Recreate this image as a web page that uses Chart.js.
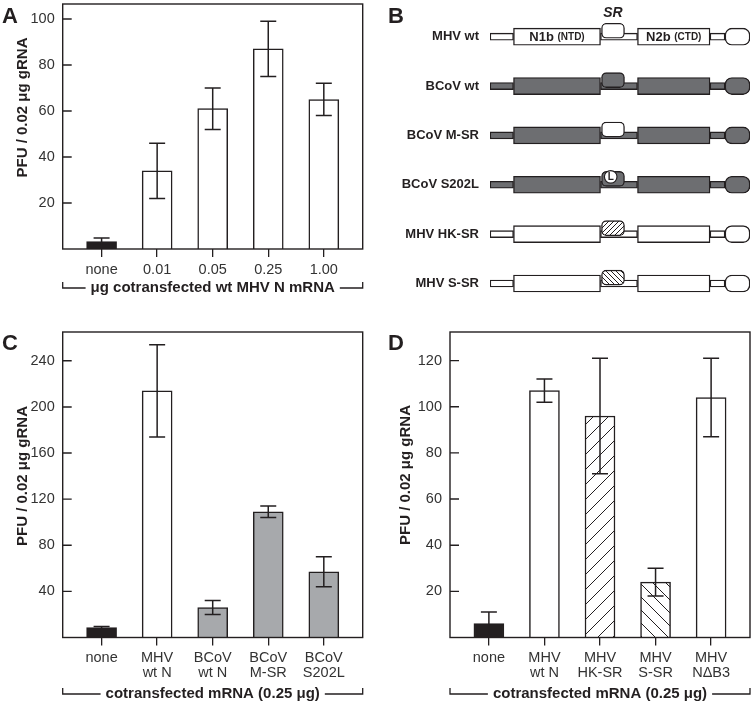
<!DOCTYPE html>
<html>
<head>
<meta charset="utf-8">
<script src="https://cdn.jsdelivr.net/npm/chart.js@4.4.1/dist/chart.umd.min.js"></script>
<style>
  body { margin: 0; background: #fff; width: 751px; height: 703px; position: relative; overflow: hidden; }
  canvas { position: absolute; }
</style>
</head>
<body>
<canvas id="chartA" width="375" height="305" style="left:0;top:0"></canvas>
<canvas id="chartB" width="376" height="305" style="left:375px;top:0"></canvas>
<canvas id="chartC" width="375" height="398" style="left:0;top:305px"></canvas>
<canvas id="chartD" width="376" height="398" style="left:375px;top:305px"></canvas>
<script>
// --- panel A : dose of wt MHV N mRNA
const dosesA = ['none', '0.01', '0.05', '0.25', '1.00'];
const pfuA = [3.2, 34, 61, 87, 65];
const errA = [1.6, 12, 9, 12, 7];
const yTicksA = [20, 40, 60, 80, 100];

// --- panel C : BCoV constructs
const mrnaC = [['none'], ['MHV', 'wt N'], ['BCoV', 'wt N'], ['BCoV', 'M-SR'], ['BCoV', 'S202L']];
const pfuC = [8.5, 214, 26, 109, 57];
const errC = [1, 40, 6, 5, 13];
const yTicksC = [40, 80, 120, 160, 200, 240];

// --- panel D : MHV SR variants
const mrnaD = [['none'], ['MHV', 'wt N'], ['MHV', 'HK-SR'], ['MHV', 'S-SR'], ['MHV', 'NΔB3']];
const pfuD = [6, 107, 96, 24, 104];
const errD = [5, 5, 25, 6, 17];
const yTicksD = [20, 40, 60, 80, 100, 120];

// --- panel B : construct map (schematic units along N)
const constructs = ['MHV wt', 'BCoV wt', 'BCoV M-SR', 'BCoV S202L', 'MHV HK-SR', 'MHV S-SR'];
const bodyKind = ['mhv', 'bcov', 'bcov', 'bcov', 'mhv', 'mhv'];
const srKind = ['mhv', 'bcov', 'mhv', 'bcov', 'hk', 's'];
const linkerSegs = [[0, 23.5], [110.5, 147.5], [220, 235]];
const ntdSeg = [23.5, 110.5];
const srSeg = [111.5, 134.5];
const ctdSeg = [147.5, 220];
const tailSeg = [235, 260];

const INK = '#231f20';
const TICK = '#333333';
const FONT = '"Liberation Sans", Arial, Helvetica, sans-serif';
const GRAY_B = '#6d6e71';
const GRAY_C = '#a7a9ac';

function hatch(dir, size) {
  const c = document.createElement('canvas');
  c.width = c.height = size;
  const g = c.getContext('2d');
  g.fillStyle = '#fff';
  g.fillRect(0, 0, size, size);
  g.strokeStyle = INK;
  g.lineWidth = 1;
  g.beginPath();
  if (dir > 0) {
    g.moveTo(0, size); g.lineTo(size, 0);
    g.moveTo(-1, 1); g.lineTo(1, -1);
    g.moveTo(size - 1, size + 1); g.lineTo(size + 1, size - 1);
  } else {
    g.moveTo(0, 0); g.lineTo(size, size);
    g.moveTo(size - 1, -1); g.lineTo(size + 1, 1);
    g.moveTo(-1, size - 1); g.lineTo(1, size + 1);
  }
  g.stroke();
  return g.createPattern(c, 'repeat');
}

// no automatic label overflow padding, the layout is fixed
function fixY(w) {
  return s => { s.width = w; s.paddingTop = 0; s.paddingBottom = 0; };
}
function fixX(h) {
  return s => { s.height = h; s.paddingLeft = 0; s.paddingRight = 0; };
}

// boxes, inward y ticks, error bars, brackets, titles
const decor = {
  id: 'decor',
  afterDatasetsDraw(chart, args, o) {
    const ctx = chart.ctx, a = chart.chartArea;
    ctx.save();
    ctx.strokeStyle = INK;
    ctx.fillStyle = INK;
    if (o.errors) {
      const y = chart.scales.y;
      const meta = chart.getDatasetMeta(0);
      const vals = chart.data.datasets[0].data;
      ctx.lineWidth = 1.5;
      o.errors.forEach((e, i) => {
        const x = meta.data[i].x;
        const hi = y.getPixelForValue(vals[i].y + e);
        const lo = y.getPixelForValue(Math.max(vals[i].y - e, 0));
        ctx.beginPath();
        ctx.moveTo(x, hi); ctx.lineTo(x, lo);
        ctx.moveTo(x - 8, hi); ctx.lineTo(x + 8, hi);
        ctx.moveTo(x - 8, lo); ctx.lineTo(x + 8, lo);
        ctx.stroke();
      });
    }
    if (o.box) {
      ctx.lineWidth = 1.4;
      ctx.strokeRect(a.left, a.top, a.right - a.left, a.bottom - a.top);
      ctx.beginPath();
      chart.scales.y.ticks.forEach(t => {
        const py = chart.scales.y.getPixelForValue(t.value);
        ctx.moveTo(a.left, py); ctx.lineTo(a.left + 9, py);
      });
      ctx.stroke();
    }
    if (o.bracket) {
      const by = o.bracket.y;
      ctx.font = 'bold 15px ' + FONT;
      ctx.textAlign = 'center';
      ctx.textBaseline = 'alphabetic';
      const cx = (a.left + a.right) / 2;
      const w = ctx.measureText(o.bracket.text).width;
      ctx.fillText(o.bracket.text, cx, by + 4);
      ctx.lineWidth = 1.3;
      ctx.beginPath();
      ctx.moveTo(a.left, by - 6); ctx.lineTo(a.left, by); ctx.lineTo(cx - w / 2 - 5, by);
      ctx.moveTo(cx + w / 2 + 5, by); ctx.lineTo(a.right, by); ctx.lineTo(a.right, by - 6);
      ctx.stroke();
    }
    if (o.yTitle) {
      ctx.save();
      ctx.font = 'bold 15px ' + FONT;
      ctx.textAlign = 'center';
      ctx.textBaseline = 'middle';
      ctx.translate(o.yTitle.x, o.yTitle.y);
      ctx.rotate(-Math.PI / 2);
      ctx.fillText(o.yTitle.text, 0, 0);
      ctx.restore();
    }
    if (o.panel) {
      ctx.font = 'bold 22px ' + FONT;
      ctx.textAlign = 'left';
      ctx.textBaseline = 'alphabetic';
      ctx.fillText(o.panel.text, o.panel.x, o.panel.y);
    }
    ctx.restore();
  }
};

function barPanel(id, cats, vals, errs, ticks, ymax, fills, lay) {
  return new Chart(document.getElementById(id), {
    type: 'bar',
    data: {
      datasets: [{
        data: vals.map((v, i) => ({ x: i, y: v })),
        backgroundColor: fills,
        borderColor: INK,
        borderWidth: 1.5,
        barThickness: 30
      }]
    },
    options: {
      responsive: false,
      animation: false,
      layout: { padding: lay.pad },
      plugins: {
        legend: { display: false },
        tooltip: { enabled: false },
        decor: { errors: errs, box: true, bracket: lay.bracket, yTitle: lay.yTitle, panel: lay.panel }
      },
      scales: {
        x: {
          type: 'linear', min: -0.7, max: 4.7, offset: false,
          afterBuildTicks: s => { s.ticks = cats.map((c, i) => ({ value: i })); },
          afterFit: fixX(lay.xh),
          ticks: {
            callback: v => cats[v], color: TICK, padding: 5, maxRotation: 0, autoSkip: false,
            font: { family: FONT, size: 14.5, lineHeight: 1.05 }
          },
          grid: { offset: false, drawOnChartArea: false, drawTicks: true, tickLength: 8, color: INK, lineWidth: 1.3 },
          border: { display: false }
        },
        y: {
          min: 0, max: ymax,
          afterBuildTicks: s => { s.ticks = ticks.map(v => ({ value: v })); },
          afterFit: fixY(lay.yw),
          ticks: { color: TICK, padding: 8, font: { family: FONT, size: 14.5 } },
          grid: { display: false, drawTicks: false },
          border: { display: false }
        }
      }
    },
    plugins: [decor]
  });
}

const yLabel = 'PFU / 0.02 μg gRNA';
const bracketText = 'cotransfected mRNA (0.25 μg)';

barPanel('chartA', dosesA, pfuA, errA, yTicksA, 106.5,
  [INK, '#fff', '#fff', '#fff', '#fff'],
  { pad: { left: 0, top: 4, right: 12.3, bottom: 0 }, yw: 62.7, xh: 56,
    bracket: { text: 'μg cotransfected wt MHV N mRNA', y: 288 },
    yTitle: { text: yLabel, x: 23, y: 107.5 },
    panel: { text: 'A', x: 2, y: 23.3 } });

barPanel('chartC', mrnaC, pfuC, errC, yTicksC, 265,
  [INK, '#fff', GRAY_C, GRAY_C, GRAY_C],
  { pad: { left: 0, top: 27, right: 12.3, bottom: 0 }, yw: 62.7, xh: 65.5,
    bracket: { text: bracketText, y: 389 },
    yTitle: { text: yLabel, x: 23, y: 171 },
    panel: { text: 'C', x: 2, y: 45 } });

barPanel('chartD', mrnaD, pfuD, errD, yTicksD, 132.4,
  [INK, '#fff', hatch(1, 15), hatch(-1, 13), '#fff'],
  { pad: { left: 0, top: 27, right: 1, bottom: 0 }, yw: 75, xh: 65.5,
    bracket: { text: bracketText, y: 389 },
    yTitle: { text: yLabel, x: 31, y: 170 },
    panel: { text: 'D', x: 13, y: 45 } });

// --- panel B as floating horizontal bars
const fillOf = { mhv: '#ffffff', bcov: GRAY_B, hk: hatch(1, 5), s: hatch(-1, 5) };
const rows = constructs.map((c, i) => i);
const common = { borderColor: INK, borderWidth: 1.4, borderSkipped: false, grouped: false };

const schemaText = {
  id: 'schemaText',
  afterDatasetsDraw(chart) {
    const ctx = chart.ctx, x = chart.scales.x, y = chart.scales.y;
    ctx.save();
    ctx.fillStyle = INK;
    ctx.textBaseline = 'middle';
    // domain names on the first construct
    [[ntdSeg, 'N1b', '(NTD)'], [ctdSeg, 'N2b', '(CTD)']].forEach(([seg, a, b]) => {
      ctx.font = 'bold 13px ' + FONT;
      const wa = ctx.measureText(a + ' ').width;
      ctx.font = 'bold 10px ' + FONT;
      const wb = ctx.measureText(b).width;
      const cx = x.getPixelForValue((seg[0] + seg[1]) / 2);
      const cy = y.getPixelForValue(0) + 0.5;
      ctx.textAlign = 'left';
      ctx.font = 'bold 13px ' + FONT;
      ctx.fillText(a, cx - (wa + wb) / 2, cy);
      ctx.font = 'bold 10px ' + FONT;
      ctx.fillText(b, cx - (wa + wb) / 2 + wa, cy + 0.5);
    });
    // SR label
    ctx.font = 'italic bold 14px ' + FONT;
    ctx.textAlign = 'center';
    ctx.fillText('SR', x.getPixelForValue(123), y.getPixelForValue(-0.47));
    // S202L marker
    const mx = x.getPixelForValue(120.7), my = y.getPixelForValue(3 - 0.16);
    ctx.beginPath();
    ctx.arc(mx, my, 6.3, 0, Math.PI * 2);
    ctx.fillStyle = '#fff';
    ctx.fill();
    ctx.lineWidth = 1.2;
    ctx.strokeStyle = INK;
    ctx.stroke();
    ctx.fillStyle = INK;
    ctx.font = 'bold 10px ' + FONT;
    ctx.fillText('L', mx, my + 0.5);
    // panel letter
    ctx.font = 'bold 22px ' + FONT;
    ctx.textAlign = 'left';
    ctx.textBaseline = 'alphabetic';
    ctx.fillText('B', 13, 23.3);
    ctx.restore();
  }
};

new Chart(document.getElementById('chartB'), {
  type: 'bar',
  data: {
    datasets: [
      Object.assign({ data: rows.map(r => ({ y: r - 0.12, x: srSeg })), backgroundColor: srKind.map(k => fillOf[k]),
        barThickness: 15, borderRadius: 5, order: 0 }, common),
      Object.assign({ data: rows.map(r => ({ y: r, x: ntdSeg })), backgroundColor: bodyKind.map(k => fillOf[k]),
        barThickness: 17, order: 1 }, common),
      Object.assign({ data: rows.map(r => ({ y: r, x: ctdSeg })), backgroundColor: bodyKind.map(k => fillOf[k]),
        barThickness: 17, order: 1 }, common),
      Object.assign({ data: rows.map(r => ({ y: r, x: tailSeg })), backgroundColor: bodyKind.map(k => fillOf[k]),
        barThickness: 17, borderRadius: 7, order: 1 }, common),
      Object.assign({ data: rows.flatMap(r => linkerSegs.map(s => ({ y: r, x: s }))),
        backgroundColor: rows.flatMap(r => linkerSegs.map(() => fillOf[bodyKind[r]])),
        barThickness: 7, order: 2 }, common)
    ]
  },
  options: {
    indexAxis: 'y',
    responsive: false,
    animation: false,
    layout: { padding: { left: 0, top: 0, right: 1, bottom: 0 } },
    plugins: { legend: { display: false }, tooltip: { enabled: false } },
    scales: {
      x: { type: 'linear', min: 0, max: 260, display: false },
      y: {
        type: 'linear', min: -0.7435, max: 5.436, reverse: true, offset: false,
        afterBuildTicks: s => { s.ticks = rows.map(r => ({ value: r })); },
        afterFit: fixY(115),
        ticks: { callback: v => constructs[v], color: INK, padding: 11, autoSkip: false,
          font: { family: FONT, size: 13, weight: 'bold' } },
        grid: { display: false, drawTicks: false, offset: false },
        border: { display: false }
      }
    }
  },
  plugins: [schemaText]
});
</script>
</body>
</html>
